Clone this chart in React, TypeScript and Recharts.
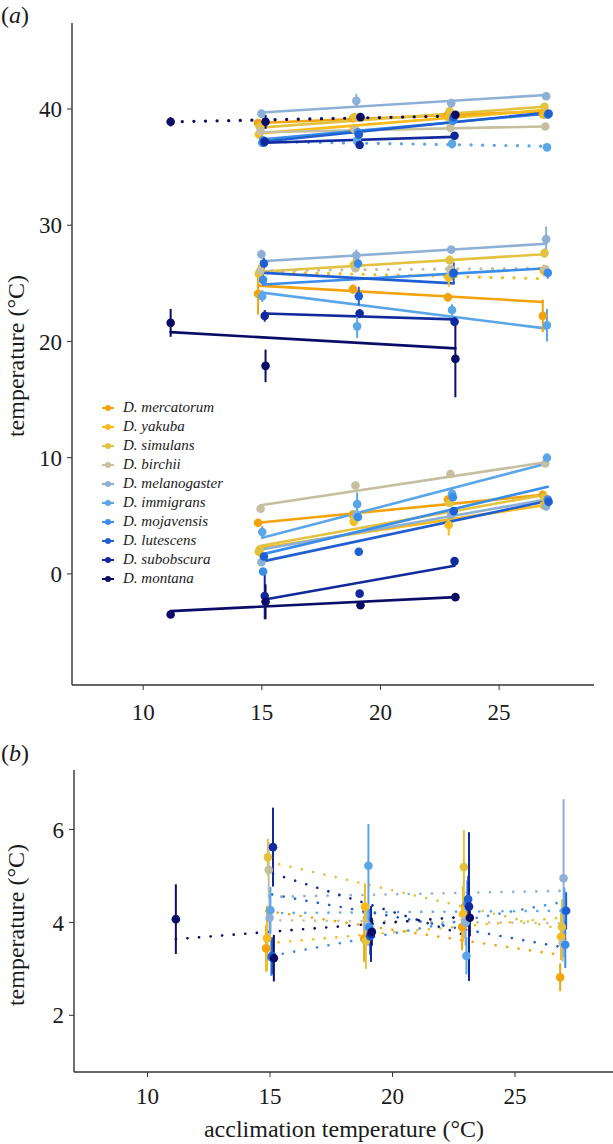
import { ComposedChart, Line, Scatter, ErrorBar, XAxis, YAxis } from "recharts";

const SPECIES = [
  "D. mercatorum",
  "D. yakuba",
  "D. simulans",
  "D. birchii",
  "D. melanogaster",
  "D. immigrans",
  "D. mojavensis",
  "D. lutescens",
  "D. subobscura",
  "D. montana",
];

const COLOURS = [
  "#f4a30c",
  "#f8bb1c",
  "#e2c23e",
  "#c6bf9f",
  "#8db0d6",
  "#5aa6e8",
  "#3a8eea",
  "#1f5fd2",
  "#10299c",
  "#0b0c68",
];

// acclimation temperatures each species was tested at
const ACCLIM_TEMPS = [
  [15, 19, 23, 27],
  [15, 19, 23, 27],
  [15, 19, 23, 27],
  [15, 19, 23, 27],
  [15, 19, 23, 27],
  [15, 19, 23, 27],
  [15, 19, 23, 27],
  [15, 19, 23, 27],
  [15, 19, 23],
  [11, 15, 19, 23],
];

// panel (a), upper group
const CTMAX_MEAN = [
  [38.8, 39.2, 39.5, 39.6],
  [37.8, 38.3, 39.3, 39.5],
  [38.5, 39.3, 39.8, 40.2],
  [38.1, 38.2, 38.4, 38.5],
  [39.6, 40.7, 40.5, 41.1],
  [37.1, 37.3, 37.0, 36.7],
  [37.3, 38.0, 39.0, 39.5],
  [37.1, 37.8, 39.3, 39.6],
  [37.2, 36.9, 37.7],
  [38.9, 38.9, 39.3, 39.5],
];
const CTMAX_SE = [
  [0.3, 0.3, 0.3, 0.3],
  [0.3, 0.3, 0.3, 0.3],
  [0.3, 0.3, 0.4, 0.3],
  [0.2, 0.2, 0.2, 0.2],
  [0.3, 0.6, 0.4, 0.3],
  [0.3, 0.3, 0.4, 0.3],
  [0.3, 0.3, 0.3, 0.3],
  [0.3, 0.3, 0.3, 0.3],
  [0.3, 0.3, 0.3],
  [0.4, 0.6, 0.3, 0.3],
];
const CTMAX_FIT = [
  [38.8, 39.8],
  [37.9, 39.9],
  [38.4, 40.2],
  [38.0, 38.5],
  [39.7, 41.2],
  [37.2, 36.8],
  [37.4, 39.6],
  [37.2, 39.7],
  [37.1, 37.6],
  [38.9, 39.4],
];
const CTMAX_DOTTED = [false, false, false, false, false, true, false, false, false, true];

// panel (a), middle group
const MID_MEAN = [
  [24.1, 24.5, 23.8, 22.2],
  [25.8, 26.6, 25.5, 26.1],
  [26.0, 26.5, 27.0, 27.6],
  [26.1, 26.3, 26.2, 26.2],
  [27.5, 27.4, 27.9, 28.8],
  [23.9, 21.3, 22.7, 21.4],
  [25.3, 26.7, 25.8, 25.9],
  [26.7, 23.9, 25.9, null],
  [22.2, 22.4, 21.7],
  [21.6, 17.9, null, 18.5],
];
const MID_SE = [
  [1.8, 0.4, 0.4, 1.4],
  [0.8, 0.5, 0.8, 0.5],
  [0.4, 0.4, 0.4, 0.4],
  [0.3, 0.3, 0.3, 0.3],
  [0.4, 0.5, 0.3, 1.1],
  [0.5, 1.0, 0.5, 1.4],
  [0.5, 0.6, 0.5, 0.5],
  [0.5, 0.8, 0.9, 0],
  [0.5, 0.4, 0.4],
  [1.2, 1.4, 0, 3.3],
];
const MID_FIT = [
  [24.8, 23.4],
  [26.0, 25.4],
  [26.0, 27.5],
  [26.1, 26.3],
  [26.9, 28.4],
  [24.2, 21.1],
  [24.9, 26.3],
  [25.9, 25.0],
  [22.4, 21.9],
  [20.8, 19.4],
];
const MID_DOTTED = [false, true, false, true, false, false, false, false, false, false];

// panel (a), lower group
const CTMIN_MEAN = [
  [4.4, 5.1, 6.4, 6.8],
  [1.9, 4.5, 4.2, 5.9],
  [2.1, 4.8, 6.1, 6.6],
  [5.6, 7.6, 8.6, 9.5],
  [1.0, 5.1, 5.1, 5.8],
  [3.6, 6.0, 6.9, 10.0],
  [0.2, 4.9, 6.6, 6.4],
  [1.5, 1.9, 5.4, 6.2],
  [-1.9, -1.7, 1.1],
  [-3.5, -2.4, -2.7, -2.0],
];
const CTMIN_SE = [
  [0.3, 0.3, 0.3, 0.3],
  [0.4, 0.4, 0.9, 0.3],
  [0.3, 0.3, 0.3, 0.3],
  [0.2, 0.2, 0.3, 0.2],
  [0.3, 0.3, 0.3, 0.3],
  [0.5, 1.0, 0.5, 0.3],
  [0.3, 0.3, 0.3, 0.3],
  [0.3, 0.3, 0.3, 0.3],
  [2.0, 0.3, 0.3],
  [0.3, 1.5, 0.3, 0.3],
];
const CTMIN_FIT = [
  [4.4, 6.8],
  [2.2, 5.9],
  [2.4, 6.8],
  [5.9, 9.6],
  [2.1, 6.4],
  [3.1, 9.5],
  [1.7, 7.5],
  [1.1, 6.3],
  [-2.2, 0.7],
  [-3.2, -2.0],
];
const CTMIN_DOTTED = [false, false, false, false, false, false, false, false, false, false];

// panel (b)
const RANGE_MEAN = [
  [3.44, 3.65, 3.9, 2.82],
  [3.66, 4.34, 4.18, 3.69],
  [5.4, 3.6, 5.19, 3.9],
  [5.13, 3.95, 4.05, 3.55],
  [4.1, 3.9, 4.0, 4.95],
  [4.26, 5.22, 3.28, 4.25],
  [3.25, 3.9, 4.4, 3.52],
  [3.28, 3.7, 4.5, 4.25],
  [5.62, 3.75, 4.34],
  [4.07, 3.23, 3.8, 4.1],
];
const RANGE_SE = [
  [0.5, 0.5, 0.5, 0.3],
  [0.7, 0.5, 0.6, 0.5],
  [0.4, 0.6, 0.8, 0.6],
  [0.6, 0.4, 0.4, 0.4],
  [0.5, 0.4, 0.5, 1.7],
  [0.5, 0.9, 0.4, 0.5],
  [0.4, 0.4, 0.5, 0.5],
  [0.4, 0.4, 0.5, 0.4],
  [0.85, 0.6, 1.6],
  [0.75, 0.5, 0.3, 0.4],
];
const RANGE_FIT = [
  [4.25, 3.3],
  [3.55, 4.1],
  [5.31, 3.85],
  [4.05, 3.98],
  [4.55, 4.68],
  [4.2, 4.25],
  [3.28, 4.45],
  [4.6, 3.45],
  [5.05, 3.7],
  [3.64, 4.13],
];
const RANGE_DOTTED = [true, true, true, true, true, true, true, true, true, true];

const X_TICKS = [10, 15, 20, 25];
const A_TICKS = [0, 10, 20, 30, 40];
const B_TICKS = [2, 4, 6];

const FONT = "'Liberation Serif', 'Times New Roman', serif";
const INK = "#1a1a1a";
const AXIS = "#333333";

interface Group {
  mean: (number | null)[][];
  se: number[][];
  fit: number[][];
  dotted: boolean[];
}

const dodge = (i: number) => (i - 4.5) * 0.035;

function buildSeries(group: Group, tag: string, lineWidth: number, dotWidth: number) {
  const lines: JSX.Element[] = [];
  const points: JSX.Element[] = [];
  SPECIES.forEach((_, i) => {
    const c = COLOURS[i];
    const pts = ACCLIM_TEMPS[i]
      .map((t, j) => ({ x: t + dodge(i), y: group.mean[i][j], err: group.se[i][j] }))
      .filter((p) => p.y !== null && p.y !== undefined);
    const fit = [
      { x: pts[0].x, y: group.fit[i][0] },
      { x: pts[pts.length - 1].x, y: group.fit[i][1] },
    ];
    const dotted = group.dotted[i];
    lines.push(
      <Line
        key={`${tag}-fit-${i}`}
        data={fit}
        dataKey="y"
        type="linear"
        stroke={c}
        strokeWidth={dotted ? dotWidth : lineWidth}
        strokeDasharray={dotted ? "0.1 11.5" : undefined}
        strokeLinecap="round"
        dot={false}
        activeDot={false}
        isAnimationActive={false}
      />
    );
    points.push(
      <Scatter
        key={`${tag}-pts-${i}`}
        data={pts}
        dataKey="y"
        fill={c}
        isAnimationActive={false}
        shape={(p: any) => <circle cx={p.cx} cy={p.cy} r={4.3} fill={c} />}
      >
        <ErrorBar dataKey="err" direction="y" width={0} stroke={c} strokeWidth={2} />
      </Scatter>
    );
  });
  return [...lines, ...points];
}

const tickStyle = { fill: INK, fontSize: 23, fontFamily: FONT };

function PanelA() {
  const groups = [
    buildSeries({ mean: CTMAX_MEAN, se: CTMAX_SE, fit: CTMAX_FIT, dotted: CTMAX_DOTTED }, "max", 2.6, 3.2),
    buildSeries({ mean: MID_MEAN, se: MID_SE, fit: MID_FIT, dotted: MID_DOTTED }, "mid", 2.6, 3.2),
    buildSeries({ mean: CTMIN_MEAN, se: CTMIN_SE, fit: CTMIN_FIT, dotted: CTMIN_DOTTED }, "min", 2.6, 3.2),
  ];
  return (
    <ComposedChart width={613} height={730} margin={{ top: 23, right: 19, left: 0, bottom: 5 }}>
      <XAxis
        dataKey="x"
        type="number"
        domain={[7, 29]}
        ticks={X_TICKS}
        allowDataOverflow
        height={40}
        tick={tickStyle}
        tickSize={5}
        tickMargin={14}
        axisLine={{ stroke: AXIS, strokeWidth: 1.4 }}
        tickLine={{ stroke: AXIS }}
      />
      <YAxis
        type="number"
        domain={[-9.56, 47.4]}
        ticks={A_TICKS}
        allowDataOverflow
        width={72}
        tick={tickStyle}
        tickSize={5}
        tickMargin={5}
        axisLine={{ stroke: AXIS, strokeWidth: 1.4 }}
        tickLine={{ stroke: AXIS }}
      />
      {groups.flat()}
    </ComposedChart>
  );
}

function PanelB() {
  const series = buildSeries(
    { mean: RANGE_MEAN, se: RANGE_SE, fit: RANGE_FIT, dotted: RANGE_DOTTED },
    "range",
    2.2,
    2.6
  );
  return (
    <ComposedChart width={613} height={382} margin={{ top: 40, right: 0, left: 0, bottom: 0 }}>
      <XAxis
        dataKey="x"
        type="number"
        domain={[7, 29]}
        ticks={X_TICKS}
        allowDataOverflow
        height={40}
        tick={tickStyle}
        tickSize={5}
        tickMargin={11}
        axisLine={{ stroke: AXIS, strokeWidth: 1.4 }}
        tickLine={{ stroke: AXIS }}
      />
      <YAxis
        type="number"
        domain={[0.78, 7.28]}
        ticks={B_TICKS}
        allowDataOverflow
        width={74}
        tick={tickStyle}
        tickSize={5}
        tickMargin={5}
        axisLine={{ stroke: AXIS, strokeWidth: 1.4 }}
        tickLine={{ stroke: AXIS }}
      />
      {series}
    </ComposedChart>
  );
}

function SpeciesLegend() {
  return (
    <div style={{ position: "absolute", left: 100, top: 398 }}>
      {SPECIES.map((name, i) => (
        <div key={name} style={{ height: 19, display: "flex", alignItems: "center" }}>
          <svg width={16} height={10}>
            <line x1={2} x2={14} y1={5} y2={5} stroke={COLOURS[i]} strokeWidth={2} />
            <circle cx={8} cy={5} r={3} fill={COLOURS[i]} />
          </svg>
          <span style={{ marginLeft: 7, fontStyle: "italic", fontSize: 15, color: INK, whiteSpace: "nowrap" }}>
            {name}
          </span>
        </div>
      ))}
    </div>
  );
}

function Rotated({ text, cx, cy }: { text: string; cx: number; cy: number }) {
  return (
    <div
      style={{
        position: "absolute",
        left: cx,
        top: cy,
        transform: "translate(-50%, -50%) rotate(-90deg)",
        whiteSpace: "nowrap",
        fontSize: 24,
        color: INK,
      }}
    >
      {text}
    </div>
  );
}

export default function App() {
  return (
    <div
      style={{
        position: "absolute",
        left: 0,
        top: 0,
        width: 613,
        height: 1144,
        background: "#fff",
        fontFamily: FONT,
        overflow: "hidden",
      }}
    >
      <div style={{ position: "absolute", left: 0, top: 0 }}>
        <PanelA />
      </div>
      <div style={{ position: "absolute", left: 0, top: 730 }}>
        <PanelB />
      </div>
      <SpeciesLegend />
      <Rotated text="temperature (°C)" cx={16} cy={356} />
      <Rotated text="temperature (°C)" cx={16} cy={925} />
      <div style={{ position: "absolute", left: 1, top: 2, fontSize: 24, color: INK }}>
        (<i>a</i>)
      </div>
      <div style={{ position: "absolute", left: 1, top: 740, fontSize: 24, color: INK }}>
        (<i>b</i>)
      </div>
      <div
        style={{
          position: "absolute",
          left: 0,
          width: 613,
          top: 1116,
          textAlign: "center",
          paddingLeft: 75,
          boxSizing: "border-box",
          fontSize: 24,
          color: INK,
        }}
      >
        acclimation temperature (°C)
      </div>
    </div>
  );
}
